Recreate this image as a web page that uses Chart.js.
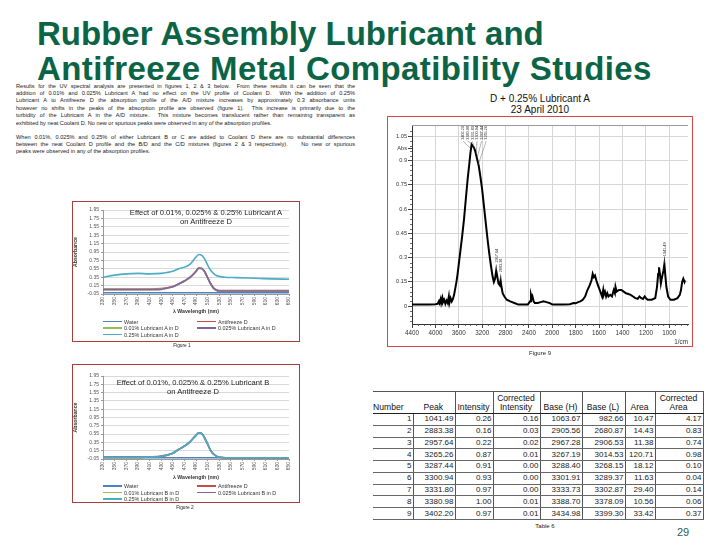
<!DOCTYPE html>
<html>
<head>
<meta charset="utf-8">
<script src="https://cdn.jsdelivr.net/npm/chart.js@4.4.1/dist/chart.umd.min.js"></script>
<style>
*{box-sizing:border-box;}
html,body{margin:0;padding:0;background:#fff;}
body{position:relative;width:720px;height:540px;overflow:hidden;font-family:"Liberation Sans",Arial,Helvetica,sans-serif;color:#111;}
.a{position:absolute;}
.c{transform:translate(-50%,-50%);white-space:nowrap;text-align:center;}
#title{left:37px;top:16px;font-weight:bold;font-size:33px;line-height:35px;color:#0c6446;white-space:nowrap;}
#title .l2{letter-spacing:0.4px;}
#para{left:16px;top:82.5px;width:339px;font-size:5.6px;line-height:7.4px;color:#1a1a1a;}
#para .j{text-align:justify;text-align-last:justify;}
#para .p2{margin-top:6.6px;}
.frame{pointer-events:none;background:transparent;}
.uvtitle{font-size:7.6px;line-height:9px;color:#222;}
.leg{font-size:5.4px;color:#333;display:flex;align-items:center;white-space:nowrap;transform:translateY(-50%);}
.leg span.sw{display:inline-block;width:19px;height:1.6px;margin-right:2px;}
.cap{font-size:4.8px;color:#222;}
#spectitle{font-size:10px;line-height:11px;color:#111;}
#tbl{left:373px;top:391px;border-collapse:collapse;table-layout:fixed;font-size:8px;color:#222;}
#tbl td,#tbl th{padding:0 1px 0 0;overflow:hidden;white-space:nowrap;}
#tbl th{font-weight:normal;font-size:8.6px;color:#111;height:22px;vertical-align:bottom;text-align:center;line-height:9.6px;border-right:1px solid #555;border-top:1px solid #555;border-bottom:1.5px solid #222;}
#tbl td{height:11.78px;line-height:10px;text-align:right;border-right:1px solid #555;border-bottom:1px solid #666;}
#tbl th.first{text-align:left;border-right:none;}
#tbl td.first{border-right:1px solid #555;}
#pg{left:683px;top:532px;font-size:11px;color:#2e5d50;}
</style>
</head>
<body>

<div id="title" class="a">Rubber Assembly Lubricant and<br><span class="l2">Antifreeze Metal Compatibility Studies</span></div>

<div id="para" class="a">
<div class="j">Results for the UV spectral analysis are presented in figures 1, 2 &amp; 3 below.&nbsp; From these results it can be seen that the</div>
<div class="j">addition of 0.01% and 0.025% Lubricant A had no effect on the UV profile of Coolant D.&nbsp; With the addition of 0.25%</div>
<div class="j">Lubricant A to Antifreeze D the absorption profile of the A/D mixture increases by approximately 0.3 absorbance units</div>
<div class="j">however no shifts in the peaks of the absorption profile are observed (figure 1).&nbsp; This increase is primarily due to the</div>
<div class="j">turbidity of the Lubricant A in the A/D mixture.&nbsp; This mixture becomes translucent rather than remaining transparent as</div>
<div>exhibited by neat Coolant D. No new or spurious peaks were observed in any of the absorption profiles.</div>
<div class="j p2">When 0.01%, 0.025% and 0.25% of either Lubricant B or C are added to Coolant D there are no substantial differences</div>
<div class="j">between the neat Coolant D profile and the B/D and the C/D mixtures (figures 2 &amp; 3 respectively).&nbsp;&nbsp;&nbsp; No new or spurious</div>
<div>peaks were observed in any of the absorption profiles.</div>
</div>

<!-- Figure 1 -->
<canvas id="fig1" class="a" width="228" height="141" style="left:72px;top:201px;"></canvas>
<div class="a frame" style="left:72px;top:201px;width:228px;height:141px;border:1.3px solid #a83e3b;"></div>
<div class="a c uvtitle" style="left:206px;top:216.5px;">Effect of 0.01%, 0.025% &amp; 0.25% Lubricant A<br>on Antifreeze D</div>
<div id="leg1"></div>
<div class="a c cap" style="left:182px;top:345px;">Figure 1</div>

<!-- Figure 2 -->
<canvas id="fig2" class="a" width="228" height="139" style="left:72px;top:364px;"></canvas>
<div class="a frame" style="left:72px;top:364px;width:228px;height:139px;border:1.3px solid #a83e3b;"></div>
<div class="a c uvtitle" style="left:193px;top:387px;">Effect of 0.01%, 0.025% &amp; 0.25% Lubricant B<br>on Antifreeze D</div>
<div id="leg2"></div>
<div class="a c cap" style="left:185px;top:507px;">Figure 2</div>

<!-- Figure 9 -->
<div id="spectitle" class="a c" style="left:540px;top:103.5px;">D + 0.25% Lubricant A<br>23 April 2010</div>
<canvas id="fig9" class="a" width="306" height="231" style="left:387px;top:116px;"></canvas>
<div class="a frame" style="left:387px;top:116px;width:306px;height:231px;border:1.4px solid #cf4a48;"></div>
<div class="a c cap" style="left:540px;top:352.5px;font-size:6px;">Figure 9</div>

<!-- Table 6 -->
<table id="tbl" class="a"></table>
<div class="a c cap" style="left:545px;top:526px;font-size:6px;">Table 6</div>

<div id="pg" class="a c">29</div>

<script>
// ================= DATA =================
// UV spectra (Figures 1 & 2)
const uvWavelength = [330,350,370,390,410,430,440,450,460,470,480,490,495,500,505,510,515,520,525,530,540,560,580,600,620,650];
const uvWavelengthTicks = [330,350,370,390,410,430,450,470,490,510,530,550,570,590,610,630,650];
const uvAbsTicks = [-0.05,0.15,0.35,0.55,0.75,0.95,1.15,1.35,1.55,1.75,1.95];

const fig1Labels = ['Water','Antifreeze D','0.01% Lubricant A in D','0.025% Lubricant A in D','0.25% Lubricant A in D'];
const fig1Water     = [-0.02,-0.02,-0.02,-0.02,-0.02,-0.02,-0.02,-0.02,-0.02,-0.02,-0.02,-0.02,-0.02,-0.02,-0.02,-0.02,-0.02,-0.02,-0.02,-0.02,-0.02,-0.02,-0.02,-0.02,-0.02,-0.02];
const fig1AntifreezeD = [0.07,0.07,0.07,0.07,0.07,0.08,0.10,0.13,0.19,0.26,0.35,0.49,0.57,0.56,0.48,0.34,0.20,0.10,0.05,0.03,0.03,0.03,0.03,0.03,0.03,0.03];
const fig1LubA001   = [0.06,0.06,0.06,0.06,0.06,0.07,0.09,0.12,0.18,0.25,0.34,0.48,0.56,0.55,0.47,0.33,0.19,0.09,0.04,0.02,0.02,0.02,0.02,0.02,0.02,0.02];
const fig1LubA0025  = [0.05,0.05,0.05,0.05,0.05,0.06,0.09,0.12,0.19,0.26,0.35,0.49,0.57,0.56,0.48,0.34,0.20,0.09,0.04,0.02,0.02,0.02,0.02,0.02,0.02,0.02];
const fig1LubA025   = [0.35,0.40,0.43,0.44,0.43,0.44,0.46,0.49,0.55,0.59,0.66,0.83,0.89,0.87,0.78,0.64,0.52,0.44,0.39,0.37,0.35,0.34,0.33,0.32,0.31,0.30];

const fig2Labels = ['Water','Antifreeze D','0.01% Lubricant B in D','0.025% Lubricant B in D','0.25% Lubricant B in D'];
const fig2Water     = [-0.02,-0.02,-0.02,-0.02,-0.02,-0.02,-0.02,-0.02,-0.02,-0.02,-0.02,-0.02,-0.02,-0.02,-0.02,-0.02,-0.02,-0.02,-0.02,-0.02,-0.02,-0.02,-0.02,-0.02,-0.02,-0.02];
const fig2AntifreezeD = [-0.01,-0.01,-0.01,-0.01,0.00,0.02,0.05,0.09,0.18,0.26,0.37,0.52,0.58,0.56,0.45,0.31,0.16,0.07,0.02,-0.01,-0.02,-0.02,-0.02,-0.02,-0.02,-0.02];
const fig2LubB001   = [-0.01,-0.01,-0.01,-0.01,0.00,0.01,0.04,0.09,0.18,0.26,0.37,0.52,0.58,0.56,0.45,0.31,0.16,0.07,0.02,-0.01,-0.02,-0.02,-0.02,-0.02,-0.02,-0.02];
const fig2LubB0025  = [0.00,0.00,0.00,0.00,0.00,0.01,0.04,0.09,0.18,0.26,0.37,0.52,0.58,0.56,0.45,0.31,0.16,0.07,0.02,-0.01,-0.02,-0.02,-0.02,-0.02,-0.02,-0.02];
const fig2LubB025   = [-0.01,-0.01,-0.01,-0.01,0.00,0.01,0.04,0.09,0.18,0.26,0.37,0.52,0.58,0.56,0.45,0.31,0.16,0.07,0.02,-0.01,-0.02,-0.02,-0.02,-0.02,-0.02,-0.02];

// FTIR spectrum (Figure 9)
const specWavenumber = [4400,4300,4200,4100,4000,3960,3940,3930,3910,3900,3880,3870,3850,3830,3810,3790,3770,3760,3740,3720,3700,3680,3660,3640,3620,3600,3570,3540,3510,3480,3450,3420,3400,3380,3360,3340,3320,3300,3280,3260,3230,3200,3170,3140,3110,3080,3050,3020,3000,2980,2960,2945,2920,2900,2885,2870,2850,2820,2780,2720,2650,2580,2500,2420,2380,2365,2350,2340,2320,2300,2250,2200,2150,2100,2050,2000,1950,1900,1850,1820,1800,1780,1760,1740,1720,1700,1680,1665,1655,1645,1635,1620,1600,1585,1575,1565,1560,1550,1540,1530,1520,1505,1490,1475,1465,1460,1450,1430,1410,1390,1370,1350,1330,1310,1290,1270,1255,1240,1225,1210,1200,1185,1150,1120,1105,1095,1088,1080,1072,1062,1050,1042,1035,1025,1010,990,960,930,910,900,890,880,870,865];
const specAbsorbance = [0.01,0.01,0.01,0.01,0.012,0.015,0.03,0.02,0.045,0.02,0.05,0.025,0.04,0.015,0.035,0.02,0.06,0.02,0.05,0.03,0.045,0.07,0.11,0.15,0.2,0.26,0.35,0.44,0.54,0.66,0.78,0.88,0.95,1.0,0.99,0.98,0.96,0.93,0.9,0.87,0.8,0.72,0.62,0.52,0.42,0.33,0.25,0.18,0.15,0.17,0.22,0.19,0.14,0.13,0.16,0.12,0.08,0.06,0.04,0.03,0.02,0.01,0.01,0.01,0.03,0.07,0.05,0.06,0.03,0.02,0.02,0.025,0.03,0.025,0.02,0.01,0.01,0.01,0.012,0.02,0.018,0.025,0.03,0.04,0.06,0.1,0.13,0.16,0.2,0.18,0.19,0.15,0.11,0.08,0.06,0.1,0.07,0.09,0.06,0.08,0.06,0.07,0.06,0.1,0.08,0.12,0.09,0.1,0.1,0.09,0.08,0.075,0.07,0.06,0.05,0.045,0.06,0.05,0.045,0.06,0.05,0.04,0.04,0.05,0.12,0.2,0.24,0.2,0.14,0.18,0.22,0.26,0.2,0.12,0.06,0.04,0.04,0.05,0.07,0.1,0.15,0.17,0.15,0.16];
const specWnTicks = [4400,4000,3600,3200,2800,2400,2000,1800,1600,1400,1200,1000];
const specAbsTicks = [0,0.15,0.3,0.45,0.6,0.75,0.9,0.975,1.05];

// Table 6 (peak table)
const tableNumber = [1,2,3,4,5,6,7,8,9];
const tablePeak = [1041.49,2883.38,2957.64,3265.26,3287.44,3300.94,3331.80,3380.98,3402.20];
const tableIntensity = [0.26,0.16,0.22,0.87,0.91,0.93,0.97,1.00,0.97];
const tableCorrIntensity = [0.16,0.03,0.02,0.01,0.00,0.00,0.00,0.01,0.01];
const tableBaseH = [1063.67,2905.56,2967.28,3267.19,3288.40,3301.91,3333.73,3388.70,3434.98];
const tableBaseL = [982.66,2680.87,2906.53,3014.53,3268.15,3289.37,3302.87,3378.09,3399.30];
const tableArea = [10.47,14.43,11.38,120.71,18.12,11.63,29.40,10.56,33.42];
const tableCorrArea = [4.17,0.83,0.74,0.98,0.10,0.04,0.14,0.06,0.37];

// ================= RENDER =================
Chart.defaults.font.family = '"Liberation Sans", Arial, sans-serif';
Chart.defaults.animation = false;
const uvColors = ['#4f81bd','#c0504d','#9bbb59','#8064a2','#4bacc6'];

function uvChart(id, series, labels, pad, xH){
  return new Chart(document.getElementById(id), {
    type:'line',
    data:{datasets: series.map((arr,i)=>({
      label:labels[i],
      data: uvWavelength.map((x,j)=>({x:x, y:arr[j]})),
      borderColor: uvColors[i], backgroundColor: uvColors[i],
      borderWidth:1.6, pointRadius:0, cubicInterpolationMode:'monotone',
      order: series.length - i
    }))},
    options:{
      responsive:false, devicePixelRatio:1, animation:false,
      layout:{padding:{top:pad.top,right:11,bottom:pad.bottom,left:0}},
      plugins:{legend:{display:false}, tooltip:{enabled:false}},
      scales:{
        x:{type:'linear', min:330, max:650,
           afterBuildTicks:s=>{s.ticks = uvWavelengthTicks.map(v=>({value:v}));},
           afterFit:s=>{s.height = xH;},
           ticks:{autoSkip:false, minRotation:90, maxRotation:90, font:{size:5}, color:'#555', padding:1, callback:v=>String(v)},
           grid:{drawOnChartArea:false, tickLength:2, color:'#999'},
           border:{color:'#999'},
           title:{display:true, text:'λ Wavelength (nm)', font:{size:5.2, weight:'bold'}, color:'#333', padding:{top:1,bottom:3}}},
        y:{min:-0.05, max:1.95,
           afterBuildTicks:s=>{s.ticks = uvAbsTicks.map(v=>({value:v}));},
           afterFit:s=>{s.width = 31;},
           ticks:{autoSkip:false, font:{size:5}, color:'#555', padding:2, callback:v=>v.toFixed(2)},
           grid:{color:'#d9d9d9', tickLength:2, tickColor:'#999'},
           border:{color:'#999'},
           title:{display:true, text:'Absorbance', font:{size:5.2, weight:'bold'}, color:'#333', padding:{top:0,bottom:1}}}
      }
    }
  });
}
uvChart('fig1',[fig1Water,fig1AntifreezeD,fig1LubA001,fig1LubA0025,fig1LubA025],fig1Labels,{top:9,bottom:24},24);
uvChart('fig2',[fig2Water,fig2AntifreezeD,fig2LubB001,fig2LubB0025,fig2LubB025],fig2Labels,{top:12,bottom:19},25);

function legend(id, labels, rowsY, colX){
  const host = document.getElementById(id);
  labels.forEach((lab,i)=>{
    const d = document.createElement('div');
    d.className='a leg';
    d.style.left = colX[i%2]+'px';
    d.style.top = rowsY[Math.floor(i/2)]+'px';
    d.innerHTML = '<span class="sw" style="background:'+uvColors[i]+'"></span>'+lab;
    host.appendChild(d);
  });
}
legend('leg1', fig1Labels, [321.5,328,334.5], [103,197]);
legend('leg2', fig2Labels, [486,492.5,499], [103,197]);

// ---- FTIR custom axis: 400 cm-1 per division above 2000, 200 cm-1 per division below ----
function wnToPos(w){ return w >= 2000 ? (4400 - w)/400 : 6 + (2000 - w)/200; }
function posToWn(p){ return p <= 6 ? 4400 - p*400 : 2000 - (p-6)*200; }
class FtirScale extends Chart.LinearScale {
  getPixelForValue(value){ return this.getPixelForDecimal(wnToPos(value)/wnToPos(this.min)); }
  getValueForPixel(pixel){ return posToWn(this.getDecimalForPixel(pixel)*wnToPos(this.min)); }
}
FtirScale.id = 'ftir';
FtirScale.defaults = Chart.LinearScale.defaults;
Chart.register(FtirScale);

const ftirDecor = {
  id:'ftirDecor',
  afterDraw(chart){
    const ctx = chart.ctx, xs = chart.scales.x, ys = chart.scales.y, ca = chart.chartArea;
    ctx.save();
    ctx.strokeStyle='#9a9a9a'; ctx.lineWidth=1;
    ctx.beginPath(); ctx.moveTo(ca.left, ca.top+0.5); ctx.lineTo(ca.right, ca.top+0.5); ctx.stroke();
    ctx.strokeStyle='#444'; ctx.lineWidth=0.8;
    ctx.beginPath();
    for(let v=-0.09; v<=1.11; v+=0.03){
      const r = Math.round(v*100)/100;
      if (Math.abs(r/0.15 - Math.round(r/0.15)) < 0.01) continue;
      const y = Math.round(ys.getPixelForValue(r))+0.5;
      ctx.moveTo(ca.left-2, y); ctx.lineTo(ca.left, y);
    }
    const pMax = wnToPos(xs.min);
    for(let p=0.25; p<pMax; p+=0.25){
      if (Math.abs(p-Math.round(p))<0.01) continue;
      const x = Math.round(xs.getPixelForValue(posToWn(p)))+0.5;
      ctx.moveTo(x, ca.bottom); ctx.lineTo(x, ca.bottom+2);
    }
    ctx.stroke();
    ctx.font = '3.8px "Liberation Sans", Arial, sans-serif';
    ctx.fillStyle='#333'; ctx.strokeStyle='#666'; ctx.lineWidth=0.5;
    const idx = tablePeak.map((w,i)=>i).sort((a,b)=>tablePeak[b]-tablePeak[a]);
    const groups = [];
    idx.forEach(i=>{
      const g = groups[groups.length-1];
      if (g && tablePeak[g[g.length-1]] - tablePeak[i] < 50) g.push(i); else groups.push([i]);
    });
    groups.forEach(g=>{
      const pxs = g.map(i=>xs.getPixelForValue(tablePeak[i]));
      const cx = pxs.reduce((a,b)=>a+b,0)/g.length;
      g.forEach((i,k)=>{
        const txt = tablePeak[i].toFixed(2);
        const tl = ctx.measureText(txt).width;
        const px = pxs[k], py = ys.getPixelForValue(tableIntensity[i]);
        const tx = g.length>1 ? cx + (k-(g.length-1)/2)*4.6 : px;
        const bottom = g.length>1 ? ca.top + 1 + tl : py - 8;
        ctx.beginPath(); ctx.moveTo(px, py-1); ctx.lineTo(tx, bottom+1.5); ctx.stroke();
        ctx.save(); ctx.translate(tx+1.3, bottom); ctx.rotate(-Math.PI/2);
        ctx.textAlign='left'; ctx.textBaseline='alphabetic';
        ctx.fillText(txt, 0, 0); ctx.restore();
      });
    });
    ctx.restore();
  }
};

new Chart(document.getElementById('fig9'), {
  type:'line',
  data:{datasets:[{
    label:'D + 0.25% Lubricant A',
    data: specWavenumber.map((w,i)=>({x:w, y:specAbsorbance[i]})),
    borderColor:'#000', borderWidth:2, pointRadius:0, tension:0
  }]},
  options:{
    responsive:false, devicePixelRatio:1, animation:false,
    layout:{padding:{top:9,right:5,bottom:0,left:0}},
    plugins:{legend:{display:false}, tooltip:{enabled:false}},
    scales:{
      x:{type:'ftir', min:840, max:4400,
         afterBuildTicks:s=>{s.ticks = specWnTicks.map(v=>({value:v}));},
         afterFit:s=>{s.height = 23;},
         ticks:{autoSkip:false, maxRotation:0, minRotation:0, font:{size:6.3}, color:'#333', padding:1, callback:v=>String(v)},
         grid:{color:'#d6d6d6', tickColor:'#444', tickLength:4},
         border:{color:'#333', width:1},
         title:{display:true, text:'1/cm', align:'end', font:{size:6.3}, color:'#333', padding:{top:0,bottom:1}}},
      y:{min:-0.11, max:1.12,
         afterBuildTicks:s=>{s.ticks = specAbsTicks.map(v=>({value:v}));},
         afterFit:s=>{s.width = 25;},
         ticks:{autoSkip:false, font:{size:5.6}, color:'#333', padding:1, callback:v=> v===0.975 ? 'Abs' : String(+v.toFixed(2))},
         grid:{color:c=> (c.tick && c.tick.value===0.975) ? 'rgba(0,0,0,0)' : '#d6d6d6', tickColor:'#444', tickLength:4},
         border:{color:'#333', width:1}}
    }
  },
  plugins:[ftirDecor]
});

// ---- Table 6 ----
(function(){
  const t = document.getElementById('tbl');
  const widths=[40,42,38,47,42,43,30,48];
  let h = '<colgroup>'+widths.map(w=>'<col style="width:'+w+'px">').join('')+'</colgroup>';
  const heads=['Number','Peak','Intensity','Corrected<br>Intensity','Base (H)','Base (L)','Area','Corrected<br>Area'];
  h += '<tr>'+heads.map((x,i)=>'<th'+(i===0?' class="first"':'')+'>'+x+'</th>').join('')+'</tr>';
  tableNumber.forEach((n,i)=>{
    const row=[String(n), tablePeak[i].toFixed(2), tableIntensity[i].toFixed(2), tableCorrIntensity[i].toFixed(2),
      tableBaseH[i].toFixed(2), tableBaseL[i].toFixed(2), tableArea[i].toFixed(2), tableCorrArea[i].toFixed(2)];
    h += '<tr>'+row.map((x,k)=>'<td'+(k===0?' class="first"':'')+'>'+x+'</td>').join('')+'</tr>';
  });
  t.innerHTML = h;
  t.style.width = widths.reduce((a,b)=>a+b,0)+'px';
})();
</script>
</body>
</html>
